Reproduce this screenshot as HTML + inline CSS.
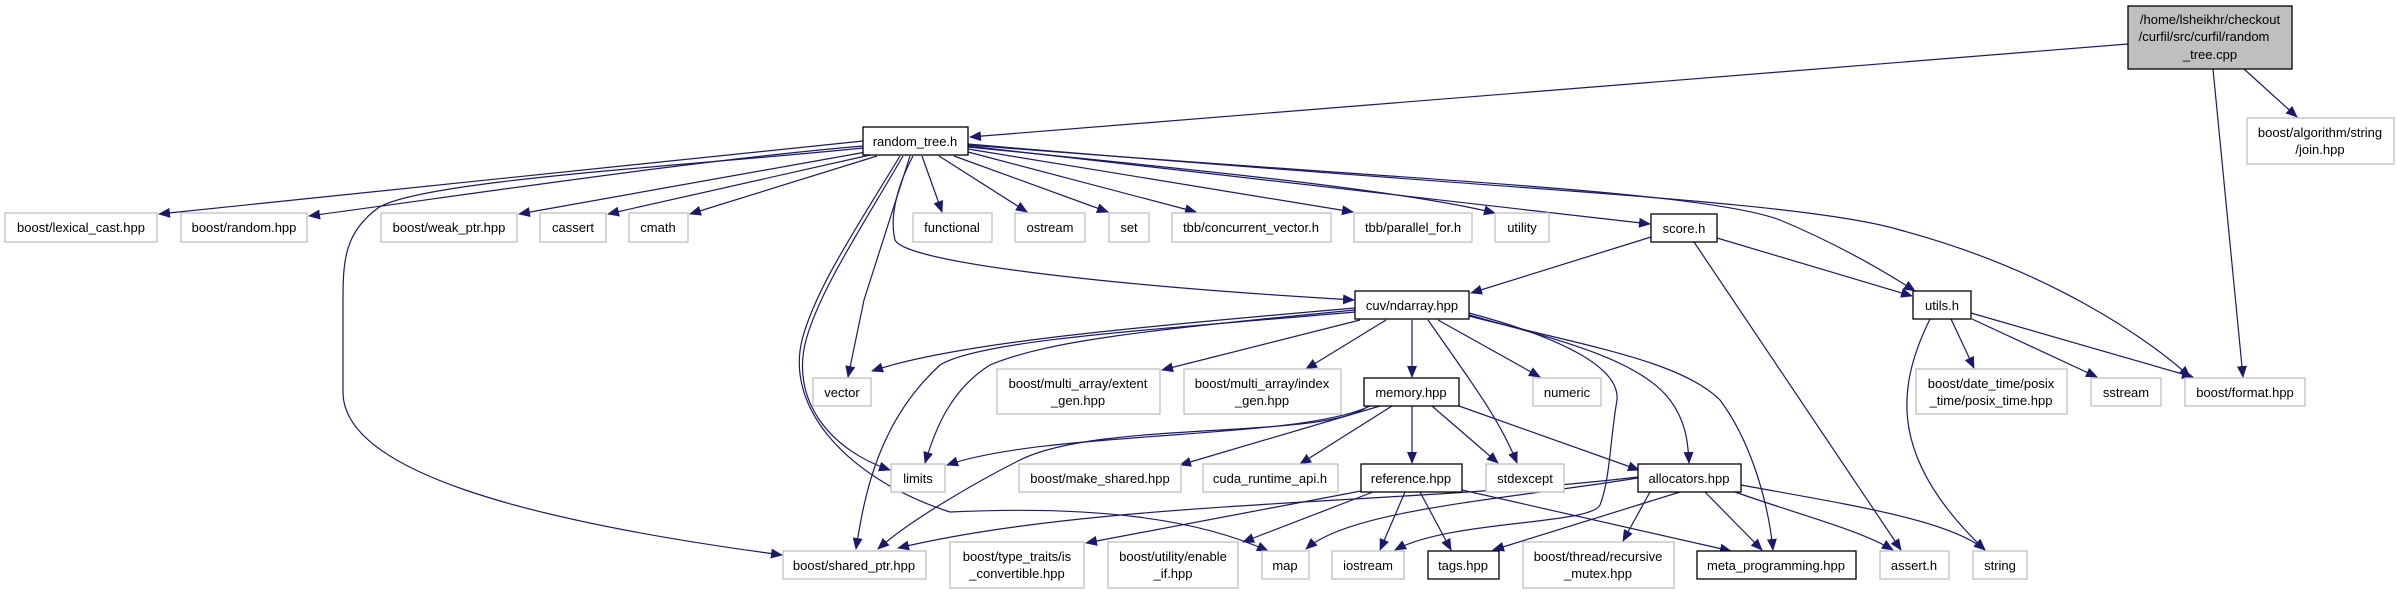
<!DOCTYPE html>
<html><head><meta charset="utf-8"><style>
html,body{margin:0;padding:0;background:#fff}
svg{display:block}
text{font-family:"Liberation Sans",Helvetica,sans-serif;font-size:13px;fill:#000;text-anchor:middle}
.g{fill:#fff;stroke:#bfbfbf;stroke-width:1.3}
.b{fill:#fff;stroke:#000;stroke-width:1.3}
path{fill:none;stroke:#191970;stroke-width:1.2}
</style></head><body>
<svg width="2397" height="595" viewBox="0 0 2397 595" xmlns="http://www.w3.org/2000/svg">
<defs><marker id="a" markerUnits="userSpaceOnUse" markerWidth="12" markerHeight="10" refX="11" refY="5" orient="auto"><polygon points="0,0 12,5 0,10" fill="#191970"/></marker></defs>
<g marker-end="url(#a)">
<!-- cpp -->
<path d="M2128,44 L970,137"/>
<path d="M2244,69 L2297,117"/>
<path d="M2213,69 L2243,377"/>
<!-- random_tree.h -->
<path d="M863,141 L159,214"/>
<path d="M863,146 C700,160 500,190 309,216"/>
<path d="M866,152 L519,214"/>
<path d="M870,155 L608,214"/>
<path d="M877,156 L690,214"/>
<path d="M863,148 C700,165 420,180 378,208 C345,232 343,260 343,300 L343,392 C343,470 520,520 782,555"/>
<path d="M922,156 L942,212"/>
<path d="M939,156 L1027,212"/>
<path d="M954,156 L1108,212"/>
<path d="M968,152 L1196,212"/>
<path d="M968,149 L1353,212"/>
<path d="M968,147 C1200,170 1400,190 1495,213"/>
<path d="M968,146 L1650,224"/>
<path d="M968,145 C1400,180 1700,190 1780,220 C1840,245 1890,275 1915,291"/>
<path d="M968,144 C1500,190 1800,200 1900,230 C2050,270 2150,340 2190,377"/>
<path d="M913,156 C895,190 890,220 895,240 C905,262 1100,285 1354,300"/>
<path d="M910,156 L864,300 L848,377"/>
<path d="M903,156 C860,230 820,290 806,340 C790,400 830,450 890,470"/>
<path d="M900,156 C855,230 815,290 802,340 C785,410 850,480 950,512 C1100,505 1200,520 1268,551"/>
<!-- cuv -->
<path d="M1355,308 C1100,330 950,345 872,371"/>
<path d="M1355,310 C1150,330 1050,340 990,365 C950,390 935,430 925,463"/>
<path d="M1355,312 C1150,330 980,340 940,365 C880,420 865,490 856,549"/>
<path d="M1360,320 L1162,370"/>
<path d="M1386,320 L1306,369"/>
<path d="M1412,320 L1412,377"/>
<path d="M1428,320 C1470,380 1500,420 1517,463"/>
<path d="M1438,320 L1540,377"/>
<path d="M1469,313 C1570,340 1620,370 1617,400 C1610,440 1610,480 1600,505 C1590,525 1450,520 1395,550"/>
<path d="M1469,315 C1560,340 1640,360 1670,400 C1685,420 1688,440 1689,463"/>
<path d="M1469,316 C1580,345 1680,360 1720,400 C1750,440 1768,500 1773,550"/>
<!-- memory -->
<path d="M1370,406 C1300,440 1050,430 947,465"/>
<path d="M1367,407 C1320,440 1100,420 1020,460 C980,480 910,520 878,549"/>
<path d="M1380,406 L1180,465"/>
<path d="M1392,406 L1300,464"/>
<path d="M1412,406 L1412,463"/>
<path d="M1432,406 L1498,463"/>
<path d="M1459,406 L1639,470"/>
<!-- reference -->
<path d="M1361,491 L1086,543"/>
<path d="M1373,492 L1243,542"/>
<path d="M1405,492 L1380,550"/>
<path d="M1420,492 L1451,550"/>
<path d="M1462,490 L1731,551"/>
<!-- allocators -->
<path d="M1638,477 C1400,505 1100,500 898,548"/>
<path d="M1638,478 C1500,500 1350,510 1306,549"/>
<path d="M1650,492 L1623,541"/>
<path d="M1705,492 L1762,550"/>
<path d="M1680,492 L1493,550"/>
<path d="M1735,492 C1800,515 1860,530 1893,550"/>
<path d="M1741,485 C1850,505 1950,520 1985,550"/>
<!-- score -->
<path d="M1651,237 L1471,293"/>
<path d="M1717,238 L1912,296"/>
<path d="M1694,242 L1901,550"/>
<!-- utils -->
<path d="M1951,319 L1974,368"/>
<path d="M1972,319 L2097,377"/>
<path d="M1971,313 L2193,377"/>
<path d="M1930,319 C1895,390 1890,460 1985,550"/>
</g>
<!-- nodes -->
<rect x="2128" y="6" width="164" height="63" fill="#bfbfbf" stroke="#000" stroke-width="1.3"/>
<text x="2210" y="24">/home/lsheikhr/checkout</text>
<text x="2204" y="41">/curfil/src/curfil/random</text>
<text x="2210" y="59">_tree.cpp</text>
<rect class="g" x="2247" y="118" width="147" height="46"/><text x="2320" y="137">boost/algorithm/string</text><text x="2320" y="154">/join.hpp</text>
<rect class="b" x="863" y="127" width="105" height="28"/><text x="915" y="146">random_tree.h</text>
<rect class="g" x="5" y="213" width="152" height="29"/><text x="81" y="232">boost/lexical_cast.hpp</text>
<rect class="g" x="181" y="213" width="126" height="29"/><text x="244" y="232">boost/random.hpp</text>
<rect class="g" x="381" y="213" width="136" height="29"/><text x="449" y="232">boost/weak_ptr.hpp</text>
<rect class="g" x="540" y="213" width="66" height="29"/><text x="573" y="232">cassert</text>
<rect class="g" x="629" y="213" width="59" height="29"/><text x="658" y="232">cmath</text>
<rect class="g" x="913" y="213" width="79" height="29"/><text x="952" y="232">functional</text>
<rect class="g" x="1015" y="213" width="70" height="29"/><text x="1050" y="232">ostream</text>
<rect class="g" x="1109" y="213" width="40" height="29"/><text x="1129" y="232">set</text>
<rect class="g" x="1172" y="213" width="159" height="29"/><text x="1251" y="232">tbb/concurrent_vector.h</text>
<rect class="g" x="1354" y="213" width="118" height="29"/><text x="1413" y="232">tbb/parallel_for.h</text>
<rect class="g" x="1495" y="213" width="54" height="29"/><text x="1522" y="232">utility</text>
<rect class="b" x="1651" y="214" width="66" height="28"/><text x="1684" y="233">score.h</text>
<rect class="b" x="1355" y="291" width="114" height="28"/><text x="1412" y="310">cuv/ndarray.hpp</text>
<rect class="b" x="1913" y="291" width="58" height="28"/><text x="1942" y="310">utils.h</text>
<rect class="g" x="813" y="378" width="58" height="28"/><text x="842" y="397">vector</text>
<rect class="g" x="997" y="369" width="163" height="45"/><text x="1078" y="388">boost/multi_array/extent</text><text x="1078" y="405">_gen.hpp</text>
<rect class="g" x="1184" y="369" width="157" height="45"/><text x="1262" y="388">boost/multi_array/index</text><text x="1262" y="405">_gen.hpp</text>
<rect class="b" x="1364" y="378" width="95" height="28"/><text x="1411" y="397">memory.hpp</text>
<rect class="g" x="1533" y="378" width="68" height="28"/><text x="1567" y="397">numeric</text>
<rect class="g" x="1916" y="369" width="151" height="45"/><text x="1991" y="388">boost/date_time/posix</text><text x="1991" y="405">_time/posix_time.hpp</text>
<rect class="g" x="2091" y="378" width="70" height="28"/><text x="2126" y="397">sstream</text>
<rect class="g" x="2185" y="378" width="120" height="28"/><text x="2245" y="397">boost/format.hpp</text>
<rect class="g" x="891" y="464" width="54" height="28"/><text x="918" y="483">limits</text>
<rect class="g" x="1019" y="464" width="162" height="28"/><text x="1100" y="483">boost/make_shared.hpp</text>
<rect class="g" x="1203" y="464" width="135" height="28"/><text x="1270" y="483">cuda_runtime_api.h</text>
<rect class="b" x="1361" y="464" width="101" height="28"/><text x="1411" y="483">reference.hpp</text>
<rect class="g" x="1486" y="464" width="78" height="28"/><text x="1525" y="483">stdexcept</text>
<rect class="b" x="1638" y="464" width="103" height="28"/><text x="1689" y="483">allocators.hpp</text>
<rect class="g" x="783" y="551" width="143" height="28"/><text x="854" y="570">boost/shared_ptr.hpp</text>
<rect class="g" x="950" y="542" width="134" height="46"/><text x="1017" y="561">boost/type_traits/is</text><text x="1017" y="578">_convertible.hpp</text>
<rect class="g" x="1108" y="542" width="130" height="46"/><text x="1173" y="561">boost/utility/enable</text><text x="1173" y="578">_if.hpp</text>
<rect class="g" x="1262" y="551" width="47" height="28"/><text x="1285" y="570">map</text>
<rect class="g" x="1332" y="551" width="72" height="28"/><text x="1368" y="570">iostream</text>
<rect class="b" x="1428" y="551" width="71" height="28"/><text x="1463" y="570">tags.hpp</text>
<rect class="g" x="1523" y="542" width="151" height="46"/><text x="1598" y="561">boost/thread/recursive</text><text x="1598" y="578">_mutex.hpp</text>
<rect class="b" x="1697" y="551" width="159" height="28"/><text x="1776" y="570">meta_programming.hpp</text>
<rect class="g" x="1880" y="551" width="69" height="28"/><text x="1914" y="570">assert.h</text>
<rect class="g" x="1973" y="551" width="54" height="28"/><text x="2000" y="570">string</text>
</svg>
</body></html>
